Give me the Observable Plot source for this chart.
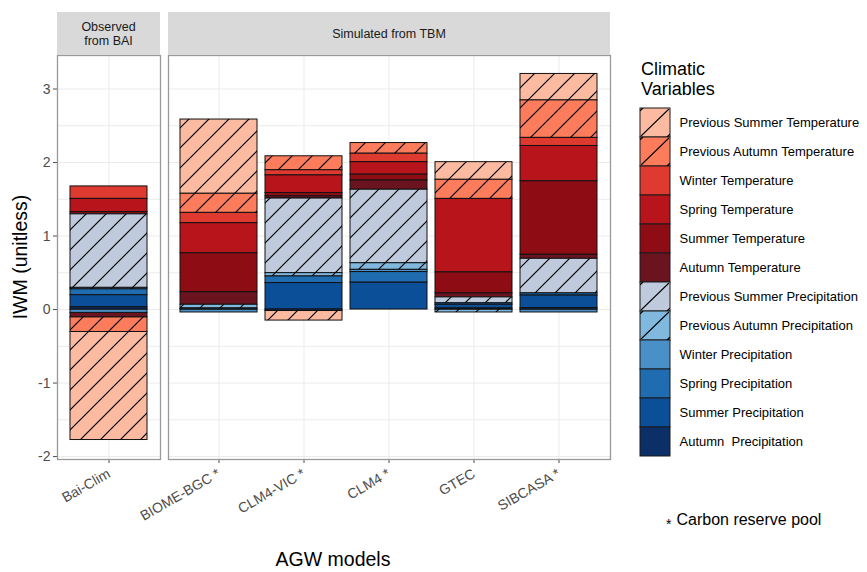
<!DOCTYPE html>
<html>
<head>
<meta charset="utf-8">
<script src="https://cdn.jsdelivr.net/npm/d3@7"></script>
<script src="https://cdn.jsdelivr.net/npm/@observablehq/plot@0.6"></script>
<style>
  body { margin: 0; background: #fff; font-family: "Liberation Sans", Arial, sans-serif; }
  #wrap { position: relative; width: 867px; height: 572px; overflow: hidden; background: #fff; }
  #wrap > .abs { position: absolute; }
  .strip { position: absolute; background: #d9d9d9; color: #1a1a1a; font-size: 12.5px; text-align: center;
           display: flex; align-items: center; justify-content: center; line-height: 14px; }
</style>
</head>
<body>
<svg width="0" height="0" style="position:absolute">
  <defs>
    <pattern id="hatch" patternUnits="userSpaceOnUse" width="20" height="20">
      <path d="M-5,5 L5,-5 M0,20 L20,0 M15,25 L25,15" stroke="#000" stroke-width="1.2" fill="none"/>
    </pattern>
    <pattern id="hatchL" patternUnits="objectBoundingBox" patternContentUnits="objectBoundingBox" width="1" height="1">
      <path d="M0.04,0.96 L0.96,0.04 M0,0.1 L0.1,0 M0.9,1 L1,0.9" stroke="#000" stroke-width="0.045" fill="none"/>
    </pattern>
  </defs>
</svg>
<div id="wrap"></div>
<script>
// ---------- data ----------
const categories = [
  "Previous Summer Temperature",
  "Previous Autumn Temperature",
  "Winter Temperature",
  "Spring Temperature",
  "Summer Temperature",
  "Autumn Temperature",
  "Previous Summer Precipitation",
  "Previous Autumn Precipitation",
  "Winter Precipitation",
  "Spring Precipitation",
  "Summer Precipitation",
  "Autumn  Precipitation"
];
const hatchedCategories = [
  "Previous Summer Temperature",
  "Previous Autumn Temperature",
  "Previous Summer Precipitation",
  "Previous Autumn Precipitation"
];
const palette = [
  "#fcbba1", "#fc7c5c", "#df3a30", "#b8141c", "#8e0c14", "#6b1420",
  "#bfcadd", "#80b8de", "#4a90c8", "#1f6db0", "#0b4f99", "#0c2f68"
];
const observedModels = ["Bai-Clim"];
const simulatedModels = ["BIOME-BGC *", "CLM4-VIC *", "CLM4 *", "GTEC", "SIBCASA *"];

// values in category order (IWM, unitless)
const baiClim  = [-1.47, -0.20, 0.17, 0.18, 0.03, -0.06, 1.00, 0.02, -0.045, 0.08, 0.165, 0.03];
const biomeBgc = [1.01, 0.26, 0.14, 0.41, 0.53, 0.17, 0, 0.05, -0.04, 0.015, 0, 0];
const clm4Vic  = [-0.13, 0.19, 0.07, 0.24, 0.045, 0.03, 1.015, 0.045, 0, 0.09, 0.36, -0.02];
const clm4     = [0, 0.145, 0.115, 0.17, 0.08, 0.125, 1.00, 0.09, 0.03, 0.145, 0.365, 0];
const gtec     = [0.24, 0.26, 0, 1.00, 0.285, 0.055, 0.08, -0.04, 0, 0.02, 0.05, 0.015];
const sibcasa  = [0.36, 0.51, 0.11, 0.48, 1.00, 0.055, 0.47, 0, -0.04, 0.03, 0.17, 0.02];

const yTicks = [-2, -1, 0, 1, 2, 3];
const yGrid = [-2, -1.5, -1, -0.5, 0, 0.5, 1, 1.5, 2, 2.5, 3];
const yDomain = [-2.04, 3.456];

// ---------- build tables ----------
const seriesByModel = {
  "Bai-Clim": baiClim, "BIOME-BGC *": biomeBgc, "CLM4-VIC *": clm4Vic,
  "CLM4 *": clm4, "GTEC": gtec, "SIBCASA *": sibcasa
};
const colorOf = Object.fromEntries(categories.map((c, i) => [c, palette[i]]));
const hatchSet = new Set(hatchedCategories);
function rowsFor(models) {
  const rows = [];
  for (const m of models) seriesByModel[m].forEach((v, i) => {
    if (v !== 0) rows.push({model: m, cat: categories[i], value: v});
  });
  return rows;
}
const stackOrder = categories.slice().reverse();

const font = '"Liberation Sans", Arial, sans-serif';

function panel(models, rows, opts) {
  const base = {x: "model", y: "value", z: "cat", order: stackOrder};
  return Plot.plot({
    width: opts.width, height: 572,
    marginLeft: opts.marginLeft, marginRight: opts.marginRight,
    marginTop: 55, marginBottom: 113,
    style: {background: "transparent", overflow: "visible", fontFamily: font, fontSize: "14px", color: "#4d4d4d"},
    x: {domain: models, paddingInner: 0.091, paddingOuter: opts.outer, label: null, tickRotate: -30, tickSize: 4, tickPadding: 9},
    y: opts.showY
      ? {domain: yDomain, ticks: yTicks, tickSize: 4, tickPadding: 3, label: null, tickFormat: d => String(d)}
      : {domain: yDomain, axis: null},
    color: {type: "identity"},
    marks: [
      Plot.ruleY(yGrid, {stroke: "#ebebeb", strokeWidth: 1}),
      Plot.ruleX(models, {x: d => d, stroke: "#ebebeb", strokeWidth: 1}),
      Plot.barY(rows, Plot.stackY({...base, fill: d => colorOf[d.cat], stroke: "#111", strokeWidth: 1})),
      Plot.barY(rows, Plot.stackY({...base, fill: d => hatchSet.has(d.cat) ? "url(#hatch)" : "none"})),
      Plot.frame({stroke: "#999", strokeWidth: 1.3})
    ]
  });
}

const wrap = document.getElementById("wrap");

const plotA = panel(observedModels, rowsFor(observedModels), {width: 162, marginLeft: 57, marginRight: 2, outer: 0.15, showY: true});
plotA.classList.add("abs"); plotA.style.left = "0px"; plotA.style.top = "0px";
wrap.appendChild(plotA);

const plotB = panel(simulatedModels, rowsFor(simulatedModels), {width: 507, marginLeft: 60, marginRight: 5, outer: 0.136, showY: false});
plotB.classList.add("abs"); plotB.style.left = "108px"; plotB.style.top = "0px";
wrap.appendChild(plotB);

// legend drawn with Plot
const legend = Plot.plot({
  width: 232, height: 351, marginTop: 0, marginBottom: 0, marginLeft: 1, marginRight: 201,
  style: {background: "transparent", overflow: "visible", fontFamily: font, fontSize: "13px", color: "#000"},
  x: {axis: null, domain: ["swatch"], padding: 0},
  y: {axis: null, domain: categories, padding: 0},
  color: {type: "identity"},
  marks: [
    Plot.cell(categories, {x: () => "swatch", y: d => d, fill: d => colorOf[d], stroke: "#1a1a1a", strokeWidth: 1}),
    Plot.cell(categories, {x: () => "swatch", y: d => d, fill: d => hatchSet.has(d) ? "url(#hatchL)" : "none"}),
    Plot.text(categories, {y: d => d, frameAnchor: "right", dx: 9, textAnchor: "start", fill: "#000"})
  ]
});
legend.classList.add("abs"); legend.style.left = "639px"; legend.style.top = "106px";
wrap.appendChild(legend);

// strips, titles, notes (HTML text)
function addDiv(html, css, cls) {
  const d = document.createElement("div");
  d.className = cls || "abs";
  d.innerHTML = html;
  Object.assign(d.style, css);
  wrap.appendChild(d);
  return d;
}
addDiv("Observed<br>from BAI", {left: "57px", top: "12px", width: "103px", height: "43px"}, "strip");
addDiv("Simulated from TBM", {left: "168px", top: "12px", width: "442px", height: "43px"}, "strip");
addDiv("Climatic<br>Variables", {left: "641px", top: "60px", fontSize: "18px", lineHeight: "19.7px", color: "#000"});
addDiv("AGW models", {left: "233px", width: "200px", textAlign: "center", top: "549px", fontSize: "19.5px", lineHeight: "20px", color: "#000"});
addDiv("IWM (unitless)", {left: "-80px", top: "247px", width: "200px", textAlign: "center", fontSize: "19.5px", lineHeight: "20px", color: "#000", transform: "rotate(-90deg)", transformOrigin: "100px 10px"});
addDiv('<span style="position:relative;top:4px;font-size:14px;margin-right:5px">*</span>Carbon reserve pool',
  {left: "666px", top: "511px", fontSize: "16px", lineHeight: "18px", color: "#000", whiteSpace: "nowrap"});
</script>
</body>
</html>
